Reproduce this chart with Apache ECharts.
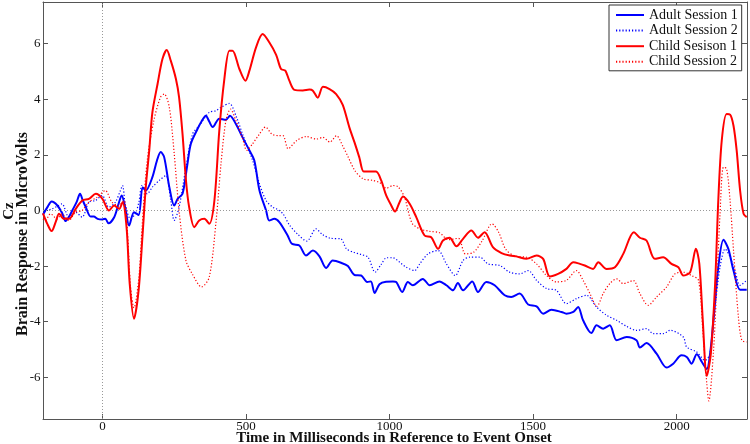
<!DOCTYPE html>
<html>
<head>
<meta charset="utf-8">
<script src="https://cdn.jsdelivr.net/npm/echarts@6/dist/echarts.min.js"></script>
<style>
html,body{margin:0;padding:0;background:#fff;}
#c{width:750px;height:444px;}
</style>
</head>
<body>
<div id="c"></div>
<script>
// ---- data (time in ms, value in microvolts) ----
const seriesNames = ['Adult Session 1', 'Adult Session 2', 'Child Sesison 1', 'Child Session 2'];
const xTicks = [0, 500, 1000, 1500, 2000];
const yTicks = [-6, -4, -2, 0, 2, 4, 6];

const adult1 = [[-207,-0.15],[-190,0.15],[-177,0.32],[-157,0.18],[-140,-0.1],[-128,-0.38],[-115,-0.2],[-105,0],[-90,0.3],[-78,0.6],[-68,0.35],[-58,0.12],[-41,-0.22],[-30,-0.22],[-17,-0.3],[0,-0.32],[10,-0.3],[21,-0.46],[41,-0.24],[55,0.2],[67,0.54],[79,0.12],[93,-0.54],[110,-0.06],[126,-0.16],[140,0.84],[151,0.72],[174,1.2],[190,1.8],[203,2.1],[215,1.92],[233,0.84],[250,0.18],[262,0.42],[279,0.6],[295,1.6],[308,2.4],[331,2.93],[345,3.2],[360,3.41],[372,3.2],[384,3.0],[407,3.3],[430,3.26],[444,3.41],[465,3.11],[488,2.63],[512,2.16],[529,1.8],[547,0.72],[570,0],[581,-0.36],[599,-0.3],[616,-0.42],[645,-0.9],[660,-1.2],[686,-1.26],[709,-1.62],[733,-1.44],[756,-1.65],[779,-2.07],[802,-1.8],[831,-1.88],[855,-2.0],[878,-2.32],[901,-2.34],[922,-2.57],[935,-2.55],[948,-2.97],[965,-2.65],[988,-2.56],[1012,-2.55],[1023,-2.57],[1044,-2.93],[1064,-2.57],[1081,-2.69],[1116,-2.46],[1140,-2.69],[1174,-2.55],[1198,-2.69],[1221,-2.87],[1238,-2.61],[1256,-2.87],[1288,-2.55],[1308,-2.93],[1337,-2.57],[1366,-2.69],[1401,-3.05],[1424,-3.11],[1453,-2.99],[1483,-3.38],[1512,-3.45],[1535,-3.71],[1564,-3.57],[1599,-3.65],[1616,-3.71],[1640,-3.65],[1657,-3.47],[1674,-3.95],[1703,-4.41],[1721,-4.13],[1744,-4.25],[1767,-4.13],[1791,-4.67],[1826,-4.55],[1860,-4.67],[1872,-4.93],[1895,-4.77],[1930,-5.15],[1965,-5.65],[1988,-5.51],[2017,-5.21],[2035,-5.27],[2052,-5.51],[2070,-5.17],[2088,-5.45],[2105,-5.7],[2117,-5.1],[2128,-3.95],[2145,-2.04],[2163,-1.05],[2180,-1.38],[2198,-2.16],[2221,-2.85],[2244,-2.85]];

const adult2 = [[-207,0.0],[-199,0],[-175,0.06],[-158,0.15],[-141,0.24],[-117,-0.24],[-94,-0.06],[-71,-0.24],[-47,0.3],[-24,0.36],[-1,0.54],[22,0.12],[45,0.3],[62,0.7],[70,0.9],[80,0.2],[98,-0.3],[115,-0.1],[127,0.3],[138,0.9],[156,0.6],[174,0.84],[200,1.1],[221,1.26],[238,0.36],[250,-0.36],[267,0.12],[291,1.56],[314,2.75],[337,3.05],[372,3.53],[395,3.59],[413,3.71],[442,3.85],[465,3.41],[488,2.75],[523,1.8],[547,0.96],[570,0.36],[593,0.12],[606,0.06],[629,-0.12],[650,-0.5],[680,-0.85],[712,-1.1],[744,-0.66],[767,-0.87],[795,-1.0],[830,-1.02],[850,-1.38],[875,-1.5],[900,-1.58],[925,-1.68],[950,-2.22],[970,-1.95],[990,-1.7],[1012,-1.7],[1035,-1.86],[1058,-2.04],[1087,-2.16],[1105,-1.92],[1134,-1.56],[1169,-1.44],[1198,-1.92],[1229,-2.34],[1256,-1.8],[1279,-1.68],[1314,-1.68],[1343,-1.92],[1384,-1.98],[1419,-2.22],[1453,-2.28],[1483,-2.16],[1512,-2.51],[1547,-2.81],[1581,-2.87],[1616,-3.35],[1651,-3.17],[1686,-3.05],[1721,-3.47],[1756,-3.77],[1791,-3.95],[1826,-4.17],[1860,-4.31],[1895,-4.25],[1919,-4.43],[1953,-4.43],[1977,-4.31],[2023,-4.55],[2035,-4.91],[2070,-5.09],[2099,-5.39],[2116,-5.15],[2134,-3.47],[2151,-2.04],[2169,-1.38],[2186,-1.68],[2203,-2.16],[2221,-2.69],[2244,-2.51]];

const child1 = [[-207,-0.1],[-192,-0.48],[-177,-0.74],[-163,-0.42],[-151,-0.12],[-134,-0.3],[-116,-0.3],[-93,0.06],[-70,0.36],[-47,0.42],[-23,0.6],[0,0.42],[23,0],[41,0.18],[58,0.06],[70,0.3],[84,-0.6],[95,-2.63],[110,-3.89],[126,-2.87],[140,-0.84],[151,0.84],[163,2.16],[174,3.53],[192,4.55],[209,5.45],[224,5.77],[238,5.39],[256,4.73],[267,4.07],[279,2.75],[291,1.08],[302,0.12],[320,-0.6],[337,-0.36],[355,-0.3],[372,-0.48],[390,0.36],[407,2.87],[424,4.67],[442,5.75],[453,5.75],[477,5.09],[498,4.67],[512,5.03],[535,5.87],[558,6.35],[581,6.05],[605,5.6],[622,5.09],[637,5.03],[651,4.67],[669,4.34],[698,4.32],[721,4.35],[733,4.31],[750,4.06],[768,4.45],[791,4.37],[814,4.19],[837,3.8],[860,2.99],[878,2.45],[895,1.9],[910,1.4],[930,1.4],[953,1.4],[971,1.08],[988,0.55],[1006,0.18],[1019,-0.04],[1035,0.3],[1047,0.5],[1070,0.24],[1093,-0.24],[1122,-0.9],[1145,-0.96],[1169,-1.38],[1186,-1.08],[1209,-0.98],[1233,-1.29],[1256,-1.02],[1285,-0.72],[1308,-0.98],[1331,-0.78],[1360,-1.32],[1390,-1.53],[1419,-1.62],[1442,-1.65],[1477,-1.74],[1512,-1.62],[1535,-1.74],[1558,-2.37],[1587,-2.28],[1616,-2.1],[1640,-1.86],[1663,-1.92],[1680,-1.98],[1709,-2.1],[1727,-1.86],[1756,-2.1],[1785,-2.04],[1814,-1.56],[1851,-0.78],[1872,-0.98],[1895,-1.08],[1924,-1.74],[1953,-1.68],[1982,-1.92],[2006,-2.04],[2023,-2.34],[2047,-2.22],[2067,-1.38],[2079,-1.92],[2091,-3.95],[2105,-5.95],[2119,-5.15],[2134,-2.63],[2145,0.36],[2157,2.51],[2174,3.47],[2186,3.45],[2198,3.05],[2209,2.16],[2221,0.72],[2233,-0.12],[2244,-0.24]];

const child2 = [[-207,-0.3],[-199,-0.36],[-181,-0.12],[-158,-0.3],[-141,-0.12],[-117,-0.36],[-94,-0.06],[-71,0],[-47,0.3],[-18,0.48],[10,0.72],[33,0.3],[57,0.18],[75,0.36],[86,-0.6],[98,-2.75],[110,-3.5],[127,-2.4],[138,-0.6],[156,1.8],[179,3.23],[202,4.07],[215,4.19],[233,3.71],[250,2.04],[268,-0.12],[291,-1.8],[314,-2.3],[345,-2.75],[372,-2.4],[396,-0.36],[413,1.68],[430,3.23],[446,3.65],[465,3.23],[488,2.6],[503,2.16],[523,2.4],[547,2.75],[568,3.0],[590,2.75],[616,2.69],[629,2.69],[647,2.22],[676,2.51],[710,2.66],[745,2.57],[768,2.63],[792,2.46],[815,2.69],[838,2.3],[856,1.92],[879,1.44],[908,1.14],[943,1.08],[966,1.0],[989,0.8],[1012,0.9],[1030,0.85],[1052,0.48],[1078,-0.45],[1105,-0.66],[1140,-0.75],[1174,-0.8],[1205,-1.05],[1240,-1.0],[1264,-1.56],[1293,-1.5],[1322,-1.1],[1357,-0.48],[1380,-0.78],[1405,-1.4],[1440,-1.65],[1477,-1.68],[1512,-1.92],[1547,-2.34],[1581,-2.57],[1616,-2.51],[1651,-2.16],[1674,-2.51],[1698,-2.99],[1722,-3.45],[1744,-2.99],[1767,-2.63],[1791,-2.46],[1814,-2.63],[1849,-2.52],[1872,-2.99],[1901,-3.41],[1930,-3.11],[1965,-2.75],[1994,-2.28],[2023,-2.22],[2052,-2.34],[2076,-2.51],[2091,-4.31],[2105,-6.23],[2112,-6.85],[2128,-5.1],[2140,-2.63],[2151,-0.12],[2163,1.56],[2174,1.5],[2186,0.36],[2198,-1.44],[2215,-3.83],[2227,-4.67],[2244,-4.73]];

const xMin = -207, xMax = 2245, yMin = -7.5, yMax = 7.5;

// ---- chart ----
const FONT = "'Liberation Serif','DejaVu Serif',serif";
const AXIS_COLOR = '#555';
const chart = echarts.init(document.getElementById('c'), null, {renderer: 'canvas'});

function xAxisDef(pos, labels) {
  return {
    type: 'value', position: pos, min: xMin, max: xMax,
    axisLine: {show: true, onZero: false, lineStyle: {color: AXIS_COLOR, width: 1}},
    axisTick: {show: true, inside: true, length: 5, customValues: xTicks, lineStyle: {color: AXIS_COLOR}},
    axisLabel: {show: labels, customValues: xTicks, margin: 1, color: '#111', fontFamily: FONT, fontSize: 13,
      formatter: v => String(v)},
    splitLine: {show: false}
  };
}
function yAxisDef(pos, labels) {
  return {
    type: 'value', position: pos, min: yMin, max: yMax,
    axisLine: {show: true, onZero: false, lineStyle: {color: AXIS_COLOR, width: 1}},
    axisTick: {show: true, inside: true, length: 5, customValues: yTicks, lineStyle: {color: AXIS_COLOR}},
    axisLabel: {show: labels, customValues: yTicks, margin: 2.5, color: '#111', fontFamily: FONT, fontSize: 13,
      formatter: v => String(v)},
    splitLine: {show: false}
  };
}

const colors = ['#0000ff', '#0000ff', '#ff0000', '#ff0000'];
const dataSets = [adult1, adult2, child1, child2];
const dotted = [false, true, false, true];

const series = dataSets.map((d, i) => ({
  name: seriesNames[i],
  type: 'line',
  data: d,
  xAxisIndex: 0, yAxisIndex: 0,
  showSymbol: false, symbol: 'none',
  smooth: 0.3,
  clip: true,
  z: 3 + i,
  lineStyle: dotted[i]
    ? {color: colors[i], width: 1.2, type: [1.2, 2]}
    : {color: colors[i], width: 2, type: 'solid'},
  itemStyle: {color: colors[i]}
}));

// zero reference lines
series.unshift({
  name: 'ref', type: 'line', data: [], xAxisIndex: 0, yAxisIndex: 0, z: 1,
  markLine: {
    silent: true, symbol: ['none', 'none'], animation: false,
    label: {show: false},
    lineStyle: {color: '#999', width: 1, type: [1, 2]},
    data: [{yAxis: 0}, {xAxis: 0}]
  }
});

chart.setOption({
  animation: false,
  backgroundColor: '#fff',
  grid: {left: 43, right: 3, top: 2, bottom: 25, containLabel: false},
  xAxis: [xAxisDef('bottom', true), xAxisDef('top', false)],
  yAxis: [yAxisDef('left', true), yAxisDef('right', false)],
  legend: {
    data: seriesNames,
    orient: 'vertical',
    left: 609, top: 5,
    padding: [3, 4, 2, 6],
    itemGap: 1.6,
    itemWidth: 28, itemHeight: 13,
    itemStyle: {opacity: 0},
    backgroundColor: '#fff',
    borderColor: '#333', borderWidth: 1,
    textStyle: {fontFamily: FONT, fontSize: 14, lineHeight: 13, color: '#111'},
    selectedMode: false
  },
  graphic: [
    {type: 'text', x: 394, y: 438, style: {text: 'Time in Milliseconds in Reference to Event Onset', font: "bold 15px " + FONT, fill: '#111', align: 'center', verticalAlign: 'middle'}},
    {type: 'text', x: 9, y: 211, rotation: Math.PI / 2, style: {text: 'Cz', font: "bold 15px " + FONT, fill: '#111', align: 'center', verticalAlign: 'middle'}},
    {type: 'text', x: 22.5, y: 234, rotation: Math.PI / 2, style: {text: 'Brain Response in MicroVolts', font: "bold 16px " + FONT, fill: '#111', align: 'center', verticalAlign: 'middle'}}
  ],
  series: series
});
</script>
</body>
</html>
